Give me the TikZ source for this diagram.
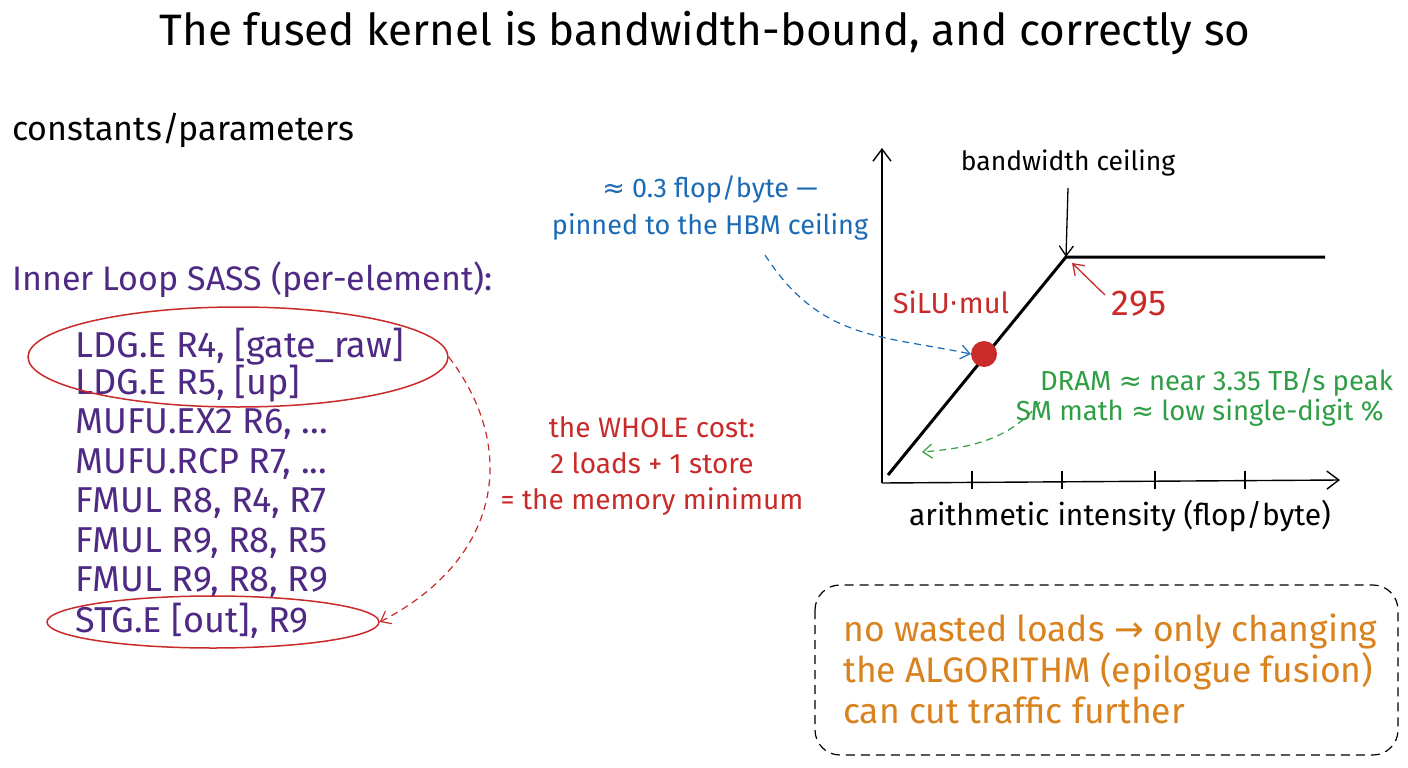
\documentclass[tikz,border=0pt]{standalone}
\usepackage{fontspec}
\setmainfont{Fira Sans}
\newfontfamily\symf{DejaVu Sans}
\usetikzlibrary{arrows.meta,shapes.geometric}
\definecolor{cpurple}{HTML}{4E2A84}
\definecolor{cred}{HTML}{C92A2A}
\definecolor{cblue}{HTML}{1C6BB5}
\definecolor{cgreen}{HTML}{2F9E44}
\definecolor{corange}{HTML}{D9821E}
\tikzset{
  txt/.style={inner sep=0pt, font=\fontsize{34}{38}\selectfont},
  code/.style={inner sep=0pt, font=\fontsize{36}{40}\selectfont, text=cpurple, anchor=west},
  note/.style={inner sep=0pt, align=center},
  ring/.style={ellipse, draw=cred, line width=1.5pt, inner sep=0pt},
  dashy/.style={dashed, dash pattern=on 7pt off 5pt, line width=1.2pt, -{Straight Barb[length=9pt,width=14pt]}},
  axis/.style={line width=1.4pt, -{Straight Barb[length=12pt,width=18pt]}},
  thinarrow/.style={line width=1.3pt, -{Straight Barb[length=10pt,width=14pt]}},
}
\begin{document}
\begin{tikzpicture}[x=1pt,y=-1pt]
\useasboundingbox[fill=white] (0,0) rectangle (1408,768);
% title
\node[inner sep=0pt, font=\fontsize{44}{48}\selectfont] (title) at (705,33) {The fused kernel is bandwidth-bound, and correctly so};
\node[txt, anchor=west] (consts) at (12,130) {constants/parameters};
\node[txt, anchor=west, text=cpurple] (inner) at (12,280) {Inner Loop SASS (per-element):};
% code
\node[code] (c1) at (75,347) {LDG.E R4, [gate\_raw]};
\node[code] (c2) at (75,384) {LDG.E R5, [up]};
\node[code] (c3) at (75,424) {MUFU.EX2 R6, ...};
\node[code] (c4) at (75,464) {MUFU.RCP R7, ...};
\node[code] (c5) at (75,503) {FMUL R8, R4, R7};
\node[code] (c6) at (75,543) {FMUL R9, R8, R5};
\node[code] (c7) at (75,582) {FMUL R9, R8, R9};
\node[code] (c8) at (75,621) {STG.E [out], R9};
% ellipses
\node[ring, minimum width=420pt, minimum height=100pt] (e1) at (238,357) {};
\node[ring, minimum width=332pt, minimum height=52pt] (e2) at (213,622) {};
\draw[dashy, cred] (e1.east) .. controls (520,450) and (500,560) .. (e2.east);
% red note
\node[note, text=cred, font=\fontsize{28}{36}\selectfont] (cost) at (652,466) {the WHOLE cost:\\2 loads + 1 store\\= the memory minimum};
% plot
\coordinate (O) at (882,483);
\coordinate (ytop) at (882,148);
\coordinate (xend) at (1340,480);
\draw[axis] (O) -- (ytop);
\draw[axis] (O) -- (xend);
\foreach \t in {972,1062,1155,1245} \draw[line width=1.3pt] (\t,471) -- (\t,489);
\coordinate (r0) at (888,475);
\coordinate (knee) at (1066,257);
\coordinate (r2) at (1325,257);
\draw[line width=3pt, line join=round] (r0) -- (knee) -- (r2);
\node[note, font=\fontsize{26.5}{30}\selectfont] (bwc) at (1068,163) {bandwidth ceiling};
\draw[thinarrow] (1068,188) -- (knee);
\node[note, text=cred, font=\fontsize{36}{40}\selectfont] (n295) at (1139,304) {295};
\draw[thinarrow, cred] (1105,295) -- (1072,263);
\node[note, text=cred, font=\fontsize{29}{30}\selectfont] (silu) at (951,302) {SiLU{\symf ·}mul};
\node[circle, fill=cred, minimum size=26pt, inner sep=0pt] (dot) at (984,354) {};
\node[note, text=cblue, font=\fontsize{27}{37}\selectfont] (blue) at (710,208) {{\symf ≈} 0.3 flop/byte ---\\pinned to the HBM ceiling};
\draw[dashy, cblue] (765,255) .. controls (820,340) and (880,335) .. (dot.west);
\node[note, text=cgreen, align=right, anchor=east, font=\fontsize{27.5}{30}\selectfont] (green) at (1393,397) {DRAM {\symf ≈} near 3.35 TB/s peak\\SM math {\symf ≈} low single-digit \%\,\,};
\draw[dashy, cgreen] (1040,402) .. controls (1010,440) and (970,448) .. (922,452);
\node[note, font=\fontsize{30}{34}\selectfont] (xlab) at (1120,516) {arithmetic intensity (flop/byte)};
% box
\draw[dashed, dash pattern=on 9pt off 6pt, line width=1.2pt, rounded corners=25pt] (815,585) rectangle (1398,755);
\node[note, text=corange, align=left, anchor=west, font=\fontsize{35.5}{41}\selectfont] (box) at (843,669) {no wasted loads {\symf →} only changing\\the ALGORITHM (epilogue fusion)\\can cut traffic further};
\end{tikzpicture}
\end{document}
